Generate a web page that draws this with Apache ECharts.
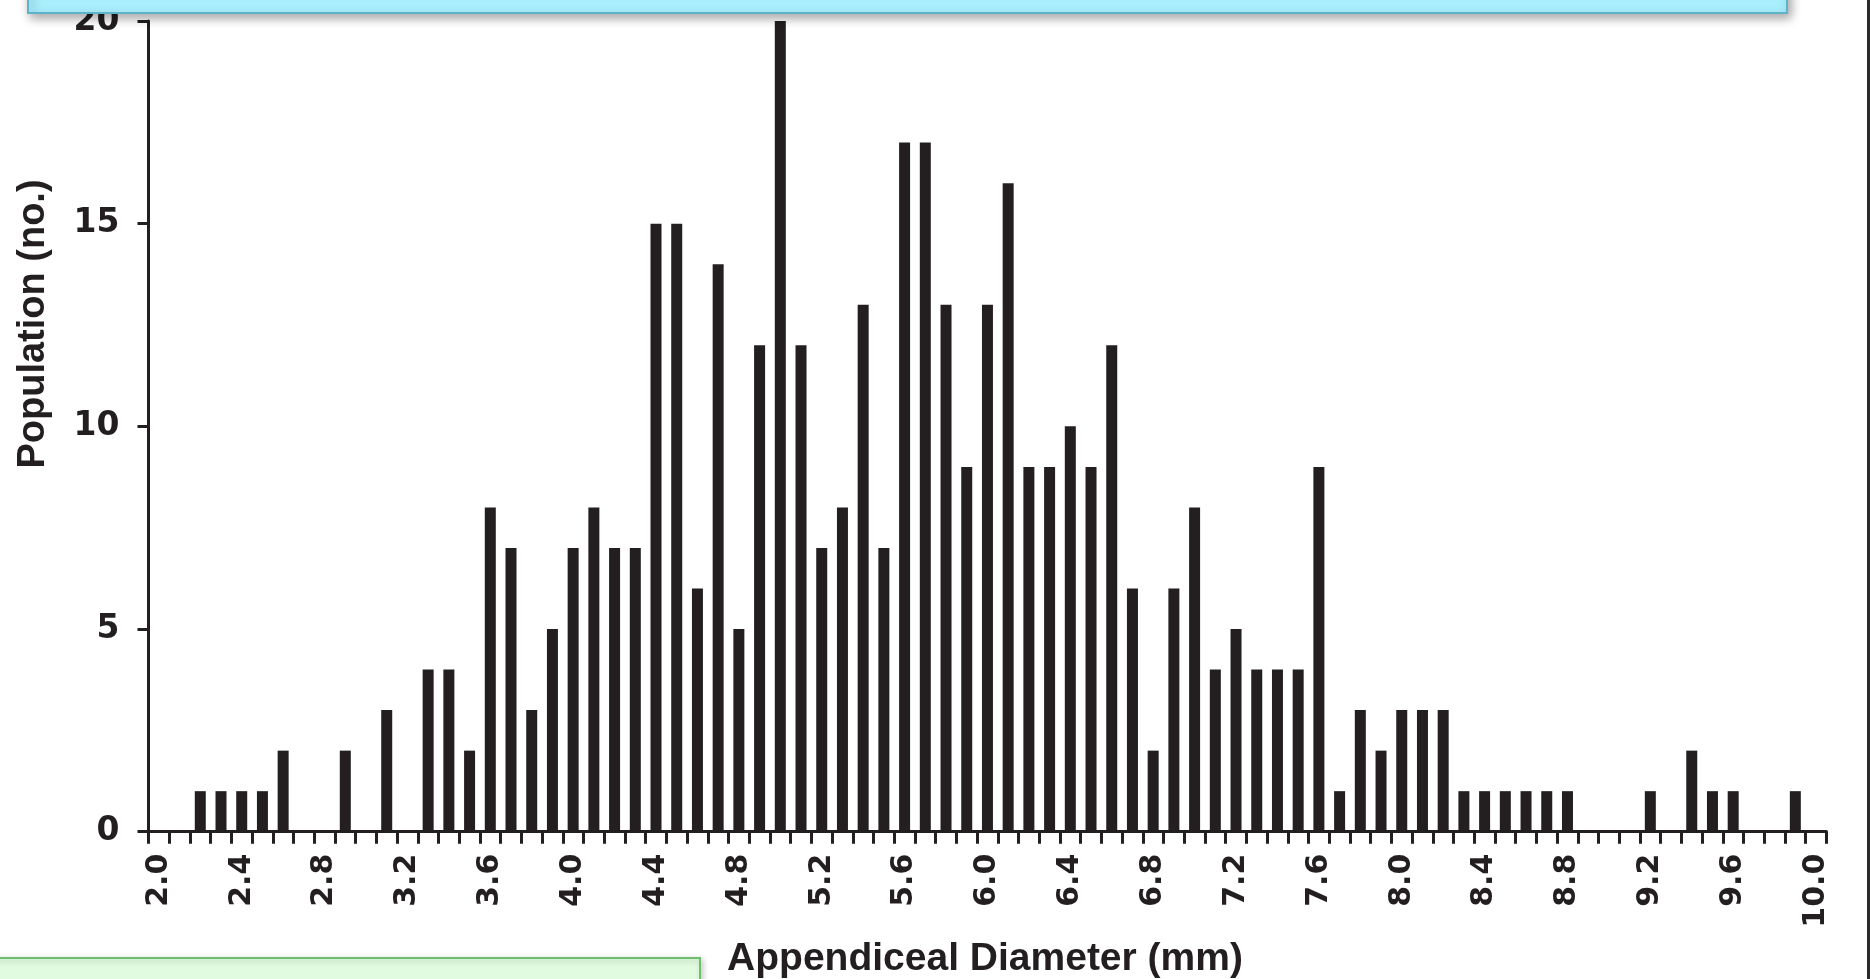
<!DOCTYPE html>
<html>
<head>
<meta charset="utf-8">
<script src="https://cdn.jsdelivr.net/npm/echarts@6/dist/echarts.min.js"></script>
<style>
html,body{margin:0;padding:0;background:#fff;}
#chart{width:1871px;height:979px;}
</style>
</head>
<body>
<div id="chart"></div>
<script>
const categories = ['2.0','2.1','2.2','2.3','2.4','2.5','2.6','2.7','2.8','2.9',
  '3.0','3.1','3.2','3.3','3.4','3.5','3.6','3.7','3.8','3.9',
  '4.0','4.1','4.2','4.3','4.4','4.5','4.6','4.7','4.8','4.9',
  '5.0','5.1','5.2','5.3','5.4','5.5','5.6','5.7','5.8','5.9',
  '6.0','6.1','6.2','6.3','6.4','6.5','6.6','6.7','6.8','6.9',
  '7.0','7.1','7.2','7.3','7.4','7.5','7.6','7.7','7.8','7.9',
  '8.0','8.1','8.2','8.3','8.4','8.5','8.6','8.7','8.8','8.9',
  '9.0','9.1','9.2','9.3','9.4','9.5','9.6','9.7','9.8','9.9',
  '10.0'];
const population = [0,0,1,1,1,1,2,0,0,2,
  0,3,0,4,4,2,8,7,3,5,
  7,8,7,7,15,15,6,14,5,12,
  20,12,7,8,13,7,17,17,13,9,
  13,16,9,9,10,9,12,6,2,6,
  8,4,5,4,4,4,9,1,3,2,
  3,3,3,1,1,1,1,1,1,0,
  0,0,1,0,2,1,1,0,0,1,
  0];
const yTicks = [0,5,10,15,20];
const xTitle = 'Appendiceal Diameter (mm)';
const yTitle = 'Population (no.)';

const ink = '#231f20';
const chart = echarts.init(document.getElementById('chart'));
chart.setOption({
  animation: false,
  backgroundColor: '#ffffff',
  grid: {left: 148.5, right: 44.6, top: 21, bottom: 147.3, containLabel: false},
  xAxis: {
    type: 'category',
    data: categories,
    boundaryGap: true,
    axisLine: {show: true, lineStyle: {color: ink, width: 3}},
    axisTick: {show: true, interval: 0, alignWithLabel: false, length: 12, lineStyle: {color: ink, width: 3}},
    axisLabel: {interval: 3, rotate: 90, margin: 22, color: ink, fontFamily: 'DejaVu Sans', fontWeight: 'bold', fontSize: 30},
    splitLine: {show: false}
  },
  yAxis: {
    type: 'value',
    min: yTicks[0],
    max: yTicks[yTicks.length - 1],
    interval: 5,
    axisLine: {show: true, lineStyle: {color: ink, width: 3}},
    axisTick: {show: true, length: 11, lineStyle: {color: ink, width: 3}},
    axisLabel: {margin: 29, color: ink, fontFamily: 'DejaVu Sans', fontWeight: 'bold', fontSize: 33},
    splitLine: {show: false}
  },
  series: [{
    type: 'bar',
    data: population,
    barWidth: 11,
    itemStyle: {color: ink}
  }],
  graphic: [
    {type: 'text', x: 985, y: 959, z: 50,
      style: {text: xTitle, fill: ink, font: 'bold 39px "Liberation Sans"', align: 'center', verticalAlign: 'middle'}},
    {type: 'text', x: 34, y: 324, rotation: Math.PI / 2, z: 50,
      style: {text: yTitle, fill: ink, font: 'bold 38px "Liberation Sans"', align: 'center', verticalAlign: 'middle'}},
    {type: 'rect', z: 100, shape: {x: 28, y: -20, width: 1759, height: 33},
      style: {fill: '#a8eefc', stroke: '#5fb2c8', lineWidth: 2, shadowBlur: 10, shadowOffsetX: 3, shadowOffsetY: 4, shadowColor: 'rgba(0,0,0,0.35)'}},
    {type: 'rect', z: 100, shape: {x: -10, y: 958, width: 710, height: 40},
      style: {fill: '#e0fbe0', stroke: '#6dbf6d', lineWidth: 2, shadowBlur: 6, shadowOffsetX: 2, shadowOffsetY: 2, shadowColor: 'rgba(0,0,0,0.2)'}},
    {type: 'rect', z: 100, shape: {x: 1867, y: 0, width: 3, height: 979},
      style: {fill: '#2a2a2a'}}
  ]
});
</script>
</body>
</html>
